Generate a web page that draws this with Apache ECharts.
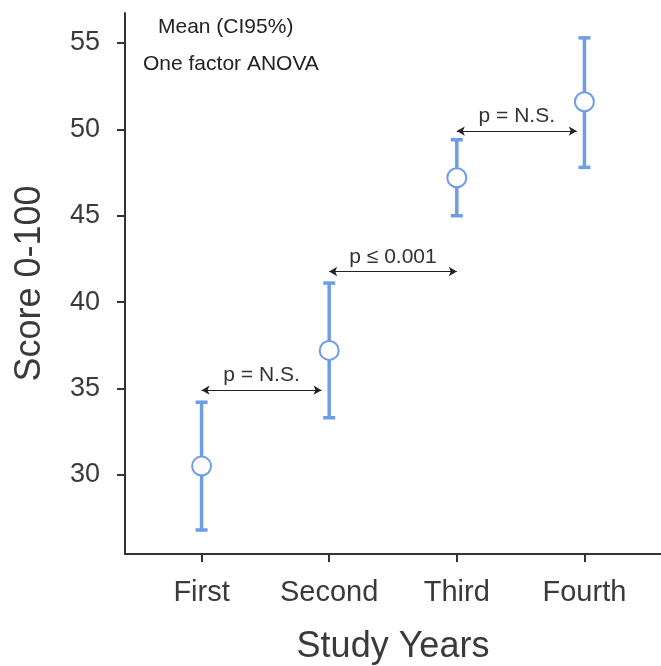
<!DOCTYPE html>
<html>
<head>
<meta charset="utf-8">
<script src="https://cdn.jsdelivr.net/npm/echarts@6/dist/echarts.min.js"></script>
<style>
  html, body { margin: 0; padding: 0; background: #fff; }
  #chart { width: 661px; height: 666px; }
</style>
</head>
<body>
<div id="chart"></div>
<script>
var years = ['First', 'Second', 'Third', 'Fourth'];
var means = [30.5, 37.2, 47.2, 51.6];
var lowerCI = [26.8, 33.3, 45.0, 47.8];
var upperCI = [34.2, 41.1, 49.4, 55.3];
var yTicks = [30, 35, 40, 45, 50, 55];
var xTicks = [1, 2, 3, 4];

// pairwise comparisons: from year, to year, level, label
var compFrom = [1, 2, 3];
var compTo = [1.94, 3.0, 3.94];
var compLevel = [34.9, 41.77, 49.9];
var compText = ['p = N.S.', 'p \u2264 0.001', 'p = N.S.'];

var blue = '#6d9de8';
var axisColor = '#333';
var textColor = '#3a3a3a';
var font = 'Liberation Sans, Arial, sans-serif';

var myChart = echarts.init(document.getElementById('chart'));

var barData = years.map(function (y, i) { return [i + 1, lowerCI[i], upperCI[i]]; });
var meanData = years.map(function (y, i) { return [i + 1, means[i]]; });
var compLines = compText.map(function (t, i) {
    return [
        { coord: [compFrom[i], compLevel[i]], name: t },
        { coord: [compTo[i], compLevel[i]] }
    ];
});

var option = {
    animation: false,
    backgroundColor: '#fff',
    grid: { left: 125, right: 0, top: 13, bottom: 112, containLabel: false, outerBoundsMode: 'none' },
    textStyle: { fontFamily: font },
    xAxis: {
        type: 'value',
        min: 0.4,
        max: 4.6,
        name: 'Study Years',
        nameLocation: 'middle',
        nameGap: 75,
        nameTextStyle: { fontSize: 36, color: textColor, fontFamily: font },
        splitLine: { show: false },
        axisLine: { onZero: false, lineStyle: { color: axisColor, width: 2 } },
        axisTick: { customValues: xTicks, length: 8, lineStyle: { color: axisColor, width: 2 } },
        axisLabel: {
            customValues: xTicks,
            margin: 24,
            fontSize: 29,
            color: textColor,
            fontFamily: font,
            formatter: function (v) { return years[Math.round(v) - 1]; }
        }
    },
    yAxis: {
        type: 'value',
        min: 25.41,
        max: 56.74,
        name: 'Score 0-100',
        nameLocation: 'middle',
        nameGap: 77,
        nameTextStyle: { fontSize: 36, color: textColor, fontFamily: font },
        splitLine: { show: false },
        axisLine: { show: true, onZero: false, lineStyle: { color: axisColor, width: 2 } },
        axisTick: { show: true, customValues: yTicks, length: 8, lineStyle: { color: axisColor, width: 2 } },
        axisLabel: {
            customValues: yTicks,
            margin: 25,
            fontSize: 27,
            color: textColor,
            fontFamily: font
        }
    },
    graphic: [
        { type: 'text', left: 158, top: 17, style: { text: 'Mean (CI95%)', fontSize: 21, fill: '#222', fontFamily: font } },
        { type: 'text', left: 143, top: 54, style: { text: 'One factor ANOVA', fontSize: 21, fill: '#222', fontFamily: font } }
    ],
    series: [
        {
            type: 'custom',
            data: barData,
            renderItem: function (params, api) {
                var x = api.value(0);
                var pLo = api.coord([x, api.value(1)]);
                var pHi = api.coord([x, api.value(2)]);
                var w = 6;
                var st = { stroke: blue, lineWidth: 3.5 };
                return {
                    type: 'group',
                    children: [
                        { type: 'line', shape: { x1: pLo[0], y1: pLo[1], x2: pHi[0], y2: pHi[1] }, style: st },
                        { type: 'line', shape: { x1: pLo[0] - w, y1: pLo[1], x2: pLo[0] + w, y2: pLo[1] }, style: st },
                        { type: 'line', shape: { x1: pHi[0] - w, y1: pHi[1], x2: pHi[0] + w, y2: pHi[1] }, style: st }
                    ]
                };
            },
            markLine: {
                silent: true,
                symbol: ['arrow', 'arrow'],
                symbolSize: [7, 8],
                lineStyle: { color: '#222', width: 1.2, type: 'solid' },
                label: {
                    show: true,
                    position: 'middle',
                    distance: 4,
                    formatter: '{b}',
                    fontSize: 21,
                    color: '#333',
                    fontFamily: font
                },
                data: compLines
            }
        },
        {
            type: 'scatter',
            data: meanData,
            symbol: 'circle',
            symbolSize: 19,
            itemStyle: { color: '#fff', borderColor: blue, borderWidth: 2, opacity: 1 },
            z: 5
        }
    ]
};

myChart.setOption(option);
</script>
</body>
</html>
